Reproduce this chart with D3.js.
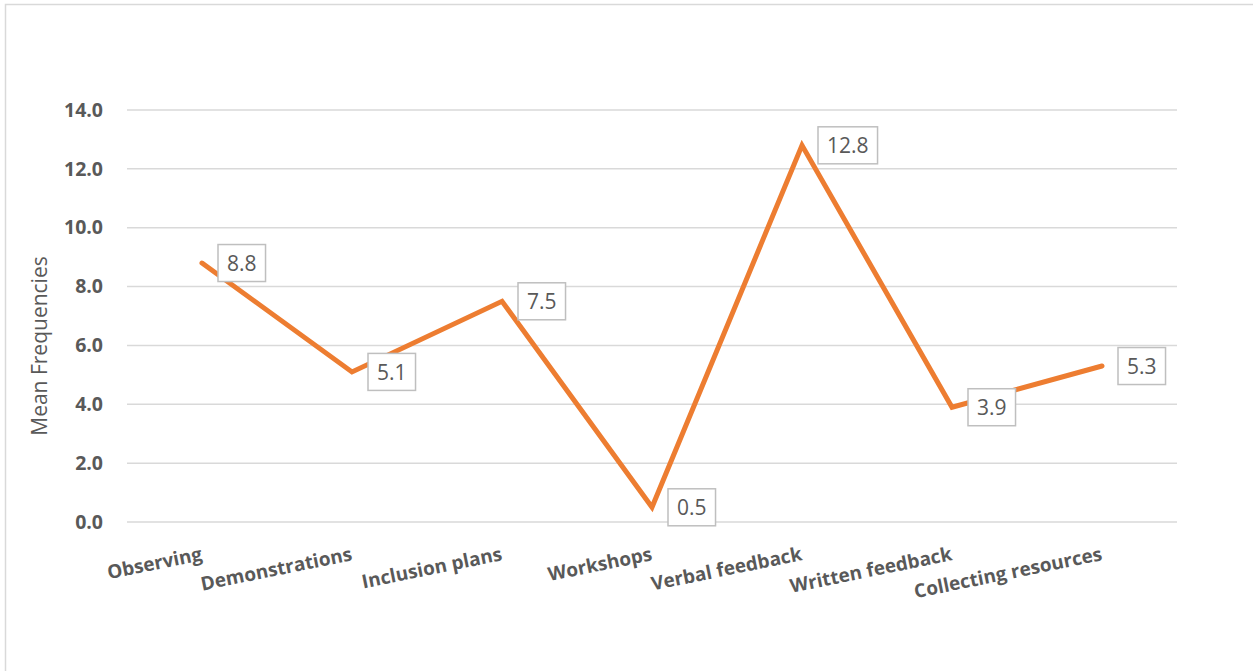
<!DOCTYPE html>
<html>
<head>
<meta charset="utf-8">
<script src="https://cdn.jsdelivr.net/npm/d3@7/dist/d3.min.js"></script>
<style>
  html, body { margin: 0; padding: 0; background: #fff; overflow: hidden; }
  svg { display: block; }
</style>
</head>
<body>
<svg id="chart" width="1253" height="671"></svg>
<script>
const categories = ["Observing", "Demonstrations", "Inclusion plans", "Workshops", "Verbal feedback", "Written feedback", "Collecting resources"];
const meanFrequencies = [8.8, 5.1, 7.5, 0.5, 12.8, 3.9, 5.3];
const yTicks = [0, 2, 4, 6, 8, 10, 12, 14];
const yAxisTitle = "Mean Frequencies";

const svg = d3.select("#chart");
const plot = { left: 127, right: 1177, top: 110, bottom: 522 };

// outer frame (only top/left visible in the crop)
svg.append("rect")
  .attr("x", 5.5).attr("y", 4.5)
  .attr("width", 1400).attr("height", 900)
  .attr("fill", "none").attr("stroke", "#d9d9d9").attr("stroke-width", 1.5);

const x = d3.scaleBand().domain(categories).range([plot.left, plot.right]);
const y = d3.scaleLinear().domain([0, 14]).range([plot.bottom, plot.top]);
const cx = d => x(d) + x.bandwidth() / 2;

// gridlines
svg.append("g").selectAll("line").data(yTicks).join("line")
  .attr("x1", plot.left).attr("x2", plot.right)
  .attr("y1", d => y(d)).attr("y2", d => y(d))
  .attr("stroke", "#d9d9d9").attr("stroke-width", 1.5);

// y axis labels
const yAxis = d3.axisLeft(y).tickValues(yTicks).tickFormat(d3.format(".1f")).tickSize(0).tickPadding(0);
const yg = svg.append("g").attr("transform", `translate(${plot.left - 24},0)`).call(yAxis);
yg.select(".domain").remove();
yg.selectAll("text")
  .attr("font-family", "'Open Sans', sans-serif")
  .attr("font-weight", "bold")
  .attr("font-size", 19.5)
  .attr("fill", "#595959");

// y axis title
svg.append("text")
  .attr("transform", `translate(47,346) rotate(-90)`)
  .attr("text-anchor", "middle")
  .attr("font-family", "'Open Sans', sans-serif")
  .attr("font-size", 21)
  .attr("fill", "#595959")
  .text(yAxisTitle);

// x axis labels
const xAxis = d3.axisBottom(x).tickSize(0).tickPadding(0);
const xg = svg.append("g").attr("transform", `translate(0,${plot.bottom})`).call(xAxis);
xg.select(".domain").remove();
xg.selectAll(".tick").attr("transform", d => `translate(${cx(d)},0)`);
xg.selectAll("text")
  .attr("y", 0).attr("dy", 0)
  .attr("text-anchor", "end")
  .attr("transform", "translate(1,38) rotate(-11.5)")
  .attr("font-family", "'Open Sans', sans-serif")
  .attr("font-weight", "bold")
  .attr("font-size", 19)
  .attr("fill", "#595959");

// line
const data = categories.map((c, i) => ({ c, v: meanFrequencies[i] }));
const line = d3.line().x(d => cx(d.c)).y(d => y(d.v));
svg.append("path")
  .datum(data)
  .attr("d", line)
  .attr("fill", "none")
  .attr("stroke", "#ED7D31")
  .attr("stroke-width", 5)
  .attr("stroke-linejoin", "miter")
  .attr("stroke-linecap", "round");

// data labels
const labels = svg.append("g").selectAll("g").data(data).join("g")
  .attr("transform", d => `translate(${cx(d.c) + 16},${y(d.v)})`);
labels.each(function(d) {
  const g = d3.select(this);
  const t = g.append("text")
    .attr("font-family", "'Open Sans', sans-serif")
    .attr("font-size", 21)
    .attr("fill", "#595959")
    .attr("dominant-baseline", "central")
    .text(d3.format(".1f")(d.v));
  const w = t.node().getComputedTextLength();
  const padX = 9, h = 37;
  g.insert("rect", "text")
    .attr("x", 0).attr("y", -h / 2)
    .attr("width", w + padX * 2).attr("height", h)
    .attr("fill", "#fff").attr("stroke", "#bfbfbf").attr("stroke-width", 1.5);
  t.attr("x", padX).attr("y", 0);
});
</script>
</body>
</html>
